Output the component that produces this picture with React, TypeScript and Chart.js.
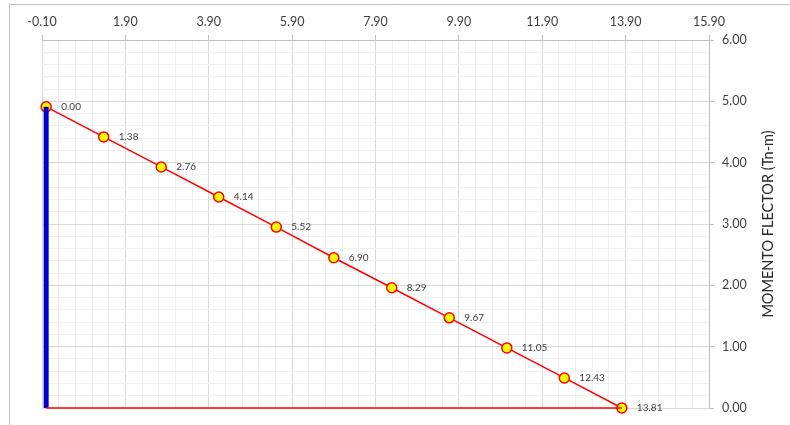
import React, { useEffect, useRef } from "react";
import { Chart, registerables } from "chart.js";

Chart.register(...registerables);

const xValues = [0, 1.38, 2.76, 4.14, 5.52, 6.9, 8.29, 9.67, 11.05, 12.43, 13.81];
const momentValues = [4.91, 4.42, 3.93, 3.44, 2.95, 2.45, 1.96, 1.47, 0.98, 0.49, 0];
const xMajorTicks = [-0.1, 1.9, 3.9, 5.9, 7.9, 9.9, 11.9, 13.9, 15.9];
const yMajorTicks = [0, 1, 2, 3, 4, 5, 6];
const yTitle = "MOMENTO FLECTOR (Tn-m)";
const MINOR = 5;

const FONT = "Lato, 'Liberation Sans', sans-serif";

const framePlugin = {
  id: "frame",
  beforeDraw(chart: any) {
    const ctx = chart.ctx;
    ctx.save();
    ctx.strokeStyle = "#c0c0c0";
    ctx.lineWidth = 1;
    ctx.beginPath();
    ctx.moveTo(9.5, 425);
    ctx.lineTo(9.5, 4.5);
    ctx.lineTo(790, 4.5);
    ctx.stroke();
    ctx.restore();
  },
  afterDraw(chart: any) {
    const ctx = chart.ctx;
    const area = chart.chartArea;
    ctx.save();
    ctx.translate(768, (area.top + area.bottom) / 2);
    ctx.rotate(-Math.PI / 2);
    ctx.fillStyle = "#262626";
    ctx.font = `14.5px ${FONT}`;
    ctx.textAlign = "center";
    ctx.textBaseline = "middle";
    ctx.fillText(yTitle, 0, 0);
    ctx.restore();
    const meta = chart.getDatasetMeta(2);
    ctx.save();
    ctx.fillStyle = "#404040";
    ctx.font = `10px ${FONT}`;
    ctx.textAlign = "left";
    ctx.textBaseline = "middle";
    meta.data.forEach((pt: any, i: number) => {
      ctx.fillText(xValues[i].toFixed(2), pt.x + 15, pt.y);
    });
    ctx.restore();
  },
};

export default function App() {
  const ref = useRef<HTMLCanvasElement | null>(null);
  useEffect(() => {
    if (!ref.current) return;
    const xMin = xMajorTicks[0];
    const xMax = xMajorTicks[xMajorTicks.length - 1];
    const xStep = (xMajorTicks[1] - xMajorTicks[0]) / MINOR;
    const yStep = (yMajorTicks[1] - yMajorTicks[0]) / MINOR;
    const chart = new Chart(ref.current, {
      type: "line",
      data: {
        datasets: [
          {
            data: [
              { x: xValues[0], y: 0 },
              { x: xValues[xValues.length - 1], y: 0 },
            ],
            borderColor: "#ff0000",
            borderWidth: 1.5,
            pointRadius: 0,
            clip: false as any,
          },
          {
            data: [
              { x: xValues[0], y: 0 },
              { x: xValues[0], y: momentValues[0] },
            ],
            borderColor: "#0000cc",
            borderWidth: 5,
            borderCapStyle: "butt",
            pointRadius: 0,
            clip: false as any,
          },
          {
            data: xValues.map((x, i) => ({ x, y: momentValues[i] })),
            borderColor: "#ff0000",
            borderWidth: 1.5,
            pointRadius: 5,
            pointBorderWidth: 1.5,
            pointBackgroundColor: "#ffff00",
            pointBorderColor: "#ff0000",
            clip: false as any,
          },
        ],
      },
      options: {
        animation: false,
        responsive: true,
        maintainAspectRatio: false,
        layout: { padding: { left: 42, right: 0, top: 0, bottom: 17 } },
        plugins: { legend: { display: false }, tooltip: { enabled: false } },
        scales: {
          x: {
            type: "linear",
            position: "top",
            min: xMin,
            max: xMax,
            afterBuildTicks(scale: any) {
              const t = [];
              const n = (xMajorTicks.length - 1) * MINOR;
              for (let i = 0; i <= n; i++) t.push({ value: xMin + i * xStep });
              scale.ticks = t;
            },
            afterFit(scale: any) {
              scale.height = 40;
            },
            ticks: {
              autoSkip: false,
              maxRotation: 0,
              padding: 6,
              color: "#404040",
              font: { family: FONT, size: 12.5 },
              callback: (_v: any, i: number) =>
                i % MINOR === 0 ? xMajorTicks[i / MINOR].toFixed(2) : "",
            },
            grid: {
              color: (c: any) => (c.index % MINOR === 0 ? "#d9d9d9" : "#f0f0f0"),
              tickColor: (c: any) => (c.index % MINOR === 0 ? "#bfbfbf" : "rgba(0,0,0,0)"),
              tickLength: 5,
            },
            border: { color: "#bfbfbf" },
          },
          y: {
            type: "linear",
            position: "right",
            min: yMajorTicks[0],
            max: yMajorTicks[yMajorTicks.length - 1],
            afterBuildTicks(scale: any) {
              const t = [];
              const n = (yMajorTicks.length - 1) * MINOR;
              for (let i = 0; i <= n; i++) t.push({ value: yMajorTicks[0] + i * yStep });
              scale.ticks = t;
            },
            afterFit(scale: any) {
              scale.width = 81;
            },
            ticks: {
              autoSkip: false,
              padding: 8,
              color: "#404040",
              font: { family: FONT, size: 12.5 },
              callback: (_v: any, i: number) =>
                i % MINOR === 0 ? yMajorTicks[i / MINOR].toFixed(2) : "",
            },
            grid: {
              color: (c: any) => (c.index % MINOR === 0 ? "#d9d9d9" : "#f0f0f0"),
              tickColor: (c: any) => (c.index % MINOR === 0 ? "#bfbfbf" : "rgba(0,0,0,0)"),
              tickLength: 5,
            },
            border: { color: "#bfbfbf" },
          },
        },
      },
      plugins: [framePlugin],
    } as any);
    return () => chart.destroy();
  }, []);
  return (
    <div style={{ position: "fixed", left: 0, top: 0, width: 790, height: 425, background: "#fff" }}>
      <canvas ref={ref} />
    </div>
  );
}
